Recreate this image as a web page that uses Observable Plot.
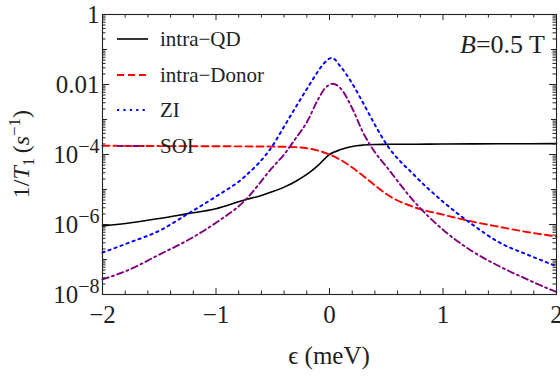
<!DOCTYPE html>
<html>
<head>
<meta charset="utf-8">
<script src="https://cdn.jsdelivr.net/npm/d3@7"></script>
<script src="https://cdn.jsdelivr.net/npm/@observablehq/plot@0.6"></script>
<style>
  html, body { margin: 0; padding: 0; background: #fff; }
</style>
</head>
<body>
<div id="chart"></div>
<script>
// Relaxation rates 1/T1 (s^-1) versus detuning epsilon (meV) at B = 0.5 T.

// intra-QD
const epsQD  = [-2, -1.75, -1.5, -1.25, -1, -0.75, -0.6, -0.5, -0.4, -0.3, -0.2, -0.1, 0, 0.1, 0.2, 0.3, 0.4, 0.5, 0.75, 1, 1.5, 2];
const rateQD = [9.12e-7, 1.12e-6, 1.48e-6, 2.04e-6, 2.82e-6, 5.01e-6, 6.76e-6, 8.71e-6, 1.17e-5, 1.70e-5, 2.69e-5, 4.90e-5,
                1.0e-4, 1.38e-4, 1.70e-4, 1.86e-4, 1.93e-4, 1.95e-4, 1.97e-4, 2.0e-4, 2.02e-4, 2.04e-4];

// intra-Donor
const epsDonor  = [-2, -1.5, -1, -0.5, -0.3, -0.2, -0.1, 0, 0.1, 0.2, 0.3, 0.4, 0.5, 0.75, 1, 1.25, 1.5, 1.75, 2];
const rateDonor = [1.78e-4, 1.74e-4, 1.72e-4, 1.68e-4, 1.62e-4, 1.51e-4, 1.29e-4, 1.0e-4, 6.92e-5, 4.27e-5, 2.40e-5,
                   1.32e-5, 7.41e-6, 3.09e-6, 1.91e-6, 1.23e-6, 8.51e-7, 6.03e-7, 4.57e-7];

// ZI
const epsZI  = [-2, -1.75, -1.5, -1.25, -1, -0.75, -0.5, -0.4, -0.3, -0.2, -0.1, -0.05, 0.02, 0.1, 0.2, 0.3, 0.4, 0.5,
                0.75, 1, 1.25, 1.5, 1.75, 2];
const rateZI = [1.58e-7, 3.16e-7, 6.61e-7, 2.0e-6, 6.31e-6, 2.29e-5, 1.82e-4, 6.31e-4, 2.19e-3, 7.41e-3, 2.40e-2, 3.98e-2,
                5.75e-2, 3.16e-2, 1.07e-2, 2.82e-3, 7.08e-4, 2.0e-4, 2.51e-5, 4.47e-6, 1.05e-6, 3.02e-7, 1.35e-7, 6.46e-8];

// SOI
const epsSOI  = [-2, -1.75, -1.5, -1.25, -1, -0.75, -0.5, -0.4, -0.3, -0.2, -0.1, -0.05, 0.03, 0.1, 0.2, 0.3, 0.4, 0.5,
                 0.75, 1, 1.25, 1.5, 1.75, 2];
const rateSOI = [2.69e-8, 5.37e-8, 1.38e-7, 3.55e-7, 1.12e-6, 4.68e-6, 4.37e-5, 1.0e-4, 2.82e-4, 8.32e-4, 3.80e-3, 7.08e-3,
                 1.05e-2, 7.59e-3, 2.09e-3, 3.98e-4, 1.17e-4, 4.57e-5, 4.37e-6, 7.08e-7, 1.78e-7, 6.31e-8, 2.63e-8, 1.17e-8];

const seriesNames = ["intra\u2212QD", "intra\u2212Donor", "ZI", "SOI"];

// Tick values
const xMajor = [-2, -1, 0, 1, 2];
const xMinor = [-1.8, -1.6, -1.4, -1.2, -0.8, -0.6, -0.4, -0.2, 0.2, 0.4, 0.6, 0.8, 1.2, 1.4, 1.6, 1.8];
const yMajor = [1e-8, 1e-6, 1e-4, 1e-2, 1];
const yMedium = [1e-7, 1e-5, 1e-3, 1e-1];
const yMantissas = [2, 3, 4, 5, 6, 7, 8, 9];
const yDecades = [1e-8, 1e-7, 1e-6, 1e-5, 1e-4, 1e-3, 1e-2, 1e-1];
const yMinor = yDecades.flatMap(d => yMantissas.map(m => m * d));

// Layout
const W = 560, H = 378;
const M = {top: 14, right: 4, bottom: 84, left: 102};
const plotW = W - M.left - M.right;
const plotH = H - M.top - M.bottom;
const FONT = "'Liberation Serif', 'DejaVu Serif', 'Times New Roman', serif";
const frameColor = "#222";

const styles = [
  {color: "#000000", dash: null, width: 1.6},
  {color: "#ff0000", dash: "7,4", width: 1.9},
  {color: "#0000ff", dash: "2.2,4.2", width: 2},
  {color: "#800080", dash: "6.5,3.5,2,3.5", width: 1.9}
];
const curves = [
  [epsQD, rateQD], [epsDonor, rateDonor], [epsZI, rateZI], [epsSOI, rateSOI]
].map(([e, r], i) => ({name: seriesNames[i], rows: e.map((x, j) => ({eps: x, rate: r[j]})), ...styles[i]}));

function fmtX(d) { return d < 0 ? "\u2212" + (-d) : String(d); }
function fmtY(d) {
  if (d === 1) return "1";
  if (d === 0.01) return "0.01";
  return "10^\u2212" + Math.round(-Math.log10(d));
}

const tickMarks = (values, scale, side, len) => {
  if (scale === "x") {
    return side === "bottom"
      ? Plot.tickX(values, {x: d => d, insetTop: plotH - len, stroke: frameColor, strokeWidth: 1})
      : Plot.tickX(values, {x: d => d, insetBottom: plotH - len, stroke: frameColor, strokeWidth: 1});
  }
  return side === "left"
    ? Plot.tickY(values, {y: d => d, insetRight: plotW - len, stroke: frameColor, strokeWidth: 1})
    : Plot.tickY(values, {y: d => d, insetLeft: plotW - len, stroke: frameColor, strokeWidth: 1});
};

const chart = Plot.plot({
  width: W,
  height: H,
  marginTop: M.top,
  marginRight: M.right,
  marginBottom: M.bottom,
  marginLeft: M.left,
  style: {fontFamily: FONT, fontSize: "25px", background: "#fff", color: "#222"},
  x: {type: "linear", domain: [-2, 2]},
  y: {type: "log", domain: [1e-8, 1]},
  marks: [
    ...curves.map(c => Plot.line(c.rows, {
      x: "eps", y: "rate", stroke: c.color, strokeWidth: c.width,
      strokeDasharray: c.dash, curve: "monotone-x"
    })),
    tickMarks(xMajor, "x", "bottom", 6),
    tickMarks(xMinor, "x", "bottom", 3.5),
    tickMarks(xMajor, "x", "top", 6),
    tickMarks(xMinor, "x", "top", 3.5),
    tickMarks(yMajor, "y", "left", 7),
    tickMarks(yMedium, "y", "left", 5),
    tickMarks(yMinor, "y", "left", 3.5),
    tickMarks(yMajor, "y", "right", 7),
    tickMarks(yMedium, "y", "right", 5),
    tickMarks(yMinor, "y", "right", 3.5),
    Plot.axisX({ticks: xMajor, tickSize: 0, tickPadding: 11, tickFormat: fmtX, fontSize: 25, fill: "#222", label: null}),
    Plot.axisY({ticks: yMajor, tickSize: 0, tickPadding: 3, tickFormat: fmtY, fontSize: 25, fill: "#222", label: null}),
    Plot.frame({stroke: frameColor, strokeWidth: 1.1})
  ]
});

document.getElementById("chart").appendChild(chart);
const svg = d3.select(chart);

// Powers of ten on the y axis: "10" with a raised exponent
svg.selectAll("text").each(function () {
  const s = this.textContent;
  if (s.includes("^")) {
    const [base, exp] = s.split("^");
    const t = d3.select(this);
    t.text(null);
    t.append("tspan").text(base);
    t.append("tspan").attr("dy", -10).attr("font-size", 20).text(exp);
  }
});

// Axis titles
const yTitle = svg.append("text")
  .attr("transform", `translate(21,${M.top + plotH / 2}) rotate(-90)`)
  .attr("text-anchor", "middle").attr("dy", "0.35em")
  .attr("font-family", FONT).attr("font-size", 24).attr("fill", "#222");
yTitle.append("tspan").text("1/");
yTitle.append("tspan").attr("font-style", "italic").text("T");
yTitle.append("tspan").attr("font-size", 16).attr("dy", 5).text("1");
yTitle.append("tspan").attr("dy", -5).text("\u2009(");
yTitle.append("tspan").attr("font-style", "italic").text("s");
yTitle.append("tspan").attr("font-size", 17).attr("dy", -9).text("\u22121");
yTitle.append("tspan").attr("dy", 9).text(")");

svg.append("text")
  .attr("x", M.left + plotW / 2).attr("y", 364)
  .attr("text-anchor", "middle")
  .attr("font-family", FONT).attr("font-size", 25).attr("fill", "#222")
  .text("\u03F5 (meV)");

// Field annotation
const bLabel = svg.append("text")
  .attr("x", 545).attr("y", 53)
  .attr("text-anchor", "end")
  .attr("font-family", FONT).attr("font-size", 26).attr("fill", "#222");
bLabel.append("tspan").attr("font-style", "italic").text("B");
bLabel.append("tspan").text("=0.5 T");

// Legend
const legend = svg.append("g")
  .attr("font-family", FONT).attr("font-size", 21).attr("fill", "#222")
  .attr("text-anchor", "start");
const rowY = [39, 75, 110, 146];
curves.forEach((c, i) => {
  legend.append("line")
    .attr("x1", 117).attr("x2", 148).attr("y1", rowY[i]).attr("y2", rowY[i])
    .attr("stroke", c.color).attr("stroke-width", c.width)
    .attr("stroke-dasharray", c.dash);
  legend.append("text").attr("x", 160).attr("y", rowY[i]).attr("dy", "0.35em").text(c.name);
});
</script>
</body>
</html>
